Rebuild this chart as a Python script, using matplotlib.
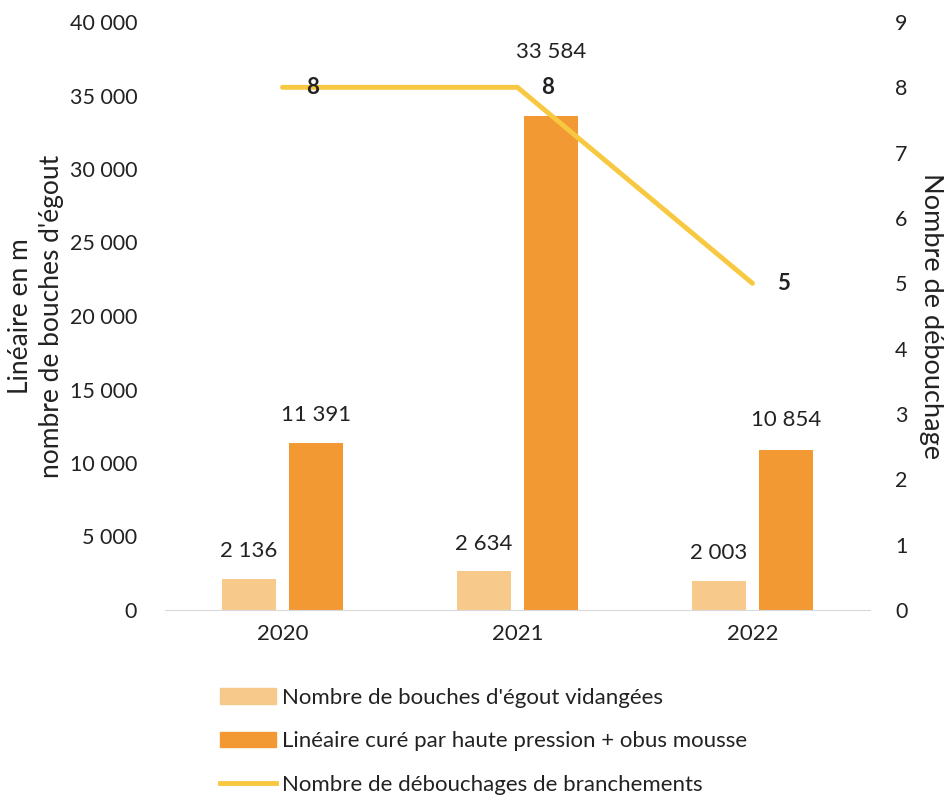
import matplotlib
matplotlib.use("Agg")
import matplotlib.pyplot as plt
from matplotlib.patches import Patch
from matplotlib.lines import Line2D

years = ["2020", "2021", "2022"]
bouches = [2136, 2634, 2003]
lineaire = [11391, 33584, 10854]
debouchages = [8, 8, 5]
left_ticks = [0, 5000, 10000, 15000, 20000, 25000, 30000, 35000, 40000]
right_ticks = [0, 1, 2, 3, 4, 5, 6, 7, 8, 9]

def fmt(v):
    return f"{v:,}".replace(",", " ")

plt.rcParams['font.family'] = ['Lato', 'DejaVu Sans']
c_light = "#F7CA8C"
c_dark = "#F29934"
c_line = "#F7C840"
txt = "#222222"

fig = plt.figure(figsize=(9.45, 8), dpi=100)
ax = fig.add_axes([0.1746, 0.2375, 0.746, 0.735])
x = list(range(len(years)))
w = 0.23
off = 0.143
ax.bar([i - off for i in x], bouches, width=w, color=c_light, zorder=2)
ax.bar([i + off for i in x], lineaire, width=w, color=c_dark, zorder=2)
ax.set_xlim(-0.5, 2.5)
ax.set_ylim(0, 40000)
ax.set_yticks(left_ticks)
ax.set_yticklabels([fmt(v) for v in left_ticks])
ax.set_xticks(x)
ax.set_xticklabels(years)
ax.tick_params(axis='x', length=0, labelsize=16, colors=txt, pad=10)
ax.tick_params(axis='y', length=0, labelsize=15.5, colors=txt, pad=20)
for s in ["top", "right", "left"]:
    ax.spines[s].set_visible(False)
ax.spines["bottom"].set_color("#D9D9D9")

# label offsets in points (2021 linear label raised to clear the line label)
off_b = [20, 20, 20]
off_l = [20, 46, 22]
for i in x:
    ax.annotate(fmt(bouches[i]), (i - off, bouches[i]), xytext=(0, off_b[i]), textcoords="offset points",
                ha="center", va="center", fontsize=16, color=txt)
    ax.annotate(fmt(lineaire[i]), (i + off, lineaire[i]), xytext=(0, off_l[i]), textcoords="offset points",
                ha="center", va="center", fontsize=16, color=txt)
ax.set_ylabel("Linéaire en m\nnombre de bouches d'égout", fontsize=19, color=txt, labelpad=4,
              linespacing=1.3)

ax2 = ax.twinx()
ax2.set_ylim(0, 9)
ax2.set_yticks(right_ticks)
ax2.plot(x, debouchages, color=c_line, lw=3.5, solid_capstyle="round", zorder=3)
ax2.tick_params(length=0, labelsize=15.5, colors=txt, pad=18)
for s in ["top", "right", "left", "bottom"]:
    ax2.spines[s].set_visible(False)
for i in x:
    ax2.annotate(str(debouchages[i]), (i, debouchages[i]), xytext=(22, 0), textcoords="offset points",
                 ha="center", va="center", fontsize=16, fontweight="bold", color=txt)
ax2.set_ylabel("Nombre de débouchage", fontsize=19.5, color=txt, rotation=270, labelpad=26)

handles = [Patch(color=c_light), Patch(color=c_dark), Line2D([0], [0], color=c_line, lw=3.5)]
labels = ["Nombre de bouches d'égout vidangées",
          "Linéaire curé par haute pression + obus mousse",
          "Nombre de débouchages de branchements"]
fig.legend(handles, labels, loc="upper left", bbox_to_anchor=(0.221, 0.154), frameon=False,
           fontsize=16, handlelength=2.5, handleheight=0.7, handletextpad=0.3, labelspacing=1.05,
           labelcolor=txt, borderpad=0)
fig.savefig("out.png", dpi=100, facecolor="white")
